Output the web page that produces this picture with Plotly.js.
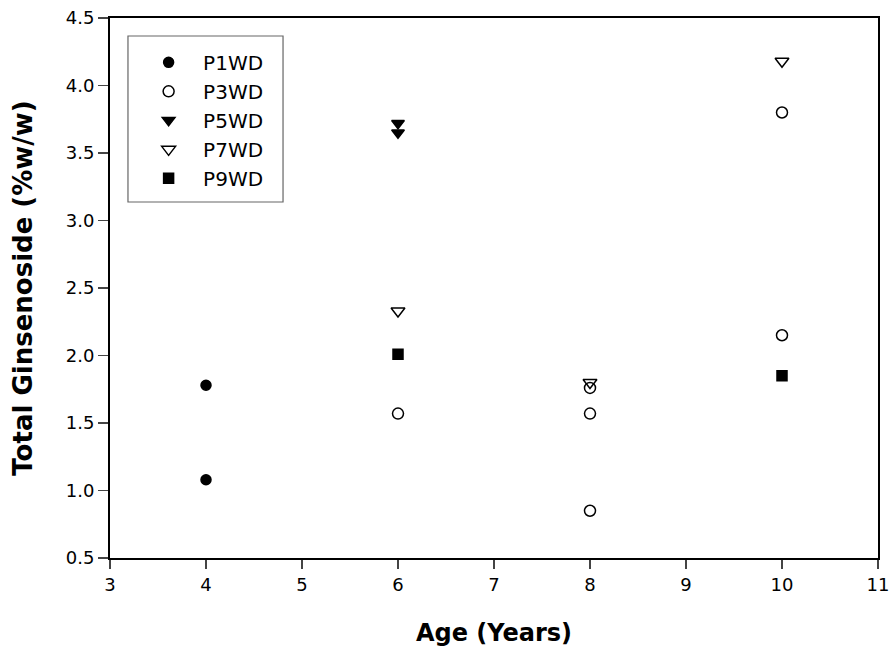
<!DOCTYPE html>
<html><head><meta charset="utf-8">
<script src="https://cdn.plot.ly/plotly-3.0.1.min.js"></script>
<style>body{margin:0;background:#fff}#c{width:892px;height:656px}</style>
</head><body><div id="c"></div>
<script>
const seriesNames = ["P1WD","P3WD","P5WD","P7WD","P9WD"];
const p1x = [4, 4];
const p1y = [1.78, 1.08];
const p3x = [6, 8, 8, 8, 10, 10];
const p3y = [1.57, 1.57, 1.76, 0.85, 3.80, 2.15];
const p5x = [6, 6];
const p5y = [3.72, 3.65];
const p7x = [6, 8, 10];
const p7y = [2.33, 1.80, 4.18];
const p9x = [6, 10];
const p9y = [2.01, 1.85];
const xTicks = [3,4,5,6,7,8,9,10,11];
const yTicks = [0.5,1.0,1.5,2.0,2.5,3.0,3.5,4.0,4.5];
const yTickText = yTicks.map(v => v.toFixed(1));

function tr(name, x, y, symbol, size) {
  return {
    type: 'scatter', mode: 'markers', name: name, x: x, y: y, legendgroup: name,
    marker: {symbol: symbol, size: size, color: '#000', line: {color: '#000', width: 1.5}}
  };
}
const data = [
  tr(seriesNames[0], p1x, p1y, 'circle', 10),
  tr(seriesNames[1], p3x, p3y, 'circle-open', 11),
  tr(seriesNames[2], p5x, p5y, 'triangle-down', 11),
  tr(seriesNames[3], p7x, p7y, 'triangle-down-open', 12),
  tr(seriesNames[4], p9x, p9y, 'square', 10)
];
const tf = 'DejaVu Sans, Arial, sans-serif';
const layout = {
  width: 892, height: 656,
  margin: {l: 110, r: 14, t: 18, b: 98},
  paper_bgcolor: '#fff', plot_bgcolor: '#fff',
  font: {family: tf, size: 18, color: '#000'},
  showlegend: true,
  legend: {x: 0.0314, y: 0.954, xanchor: 'left', yanchor: 'top',
           borderwidth: 0, bgcolor: 'rgba(0,0,0,0)', tracegroupgap: 0,
           font: {family: tf, size: 20, color: '#000'}, itemwidth: 59},
  shapes: [{type: 'rect', xref: 'paper', yref: 'paper', x0: 0.0234, x1: 0.2253, y0: 0.6593, y1: 0.9667,
            line: {color: '#666', width: 1.2}, fillcolor: 'rgba(0,0,0,0)', layer: 'below'}],
  xaxis: {range: [3, 11], tickvals: xTicks, ticks: 'outside', ticklen: 9, tickwidth: 1.5,
          showline: true, linewidth: 2, linecolor: '#000', mirror: true, showgrid: false, zeroline: false,
          tickfont: {family: tf, size: 18, color: '#000'},
          title: {text: '<b>Age (Years)</b>', font: {family: tf, size: 24, color: '#000'}, standoff: 31}},
  yaxis: {range: [0.5, 4.5], tickvals: yTicks, ticktext: yTickText, ticks: 'outside', ticklen: 10, tickwidth: 1.5,
          showline: true, linewidth: 2, linecolor: '#000', mirror: true, showgrid: false, zeroline: false,
          tickfont: {family: tf, size: 18, color: '#000'},
          title: {text: '<b>Total Ginsenoside (%w/w)</b>', font: {family: tf, size: 26, color: '#000'}, standoff: 26}}
};
Plotly.newPlot('c', data, layout, {displayModeBar: false, staticPlot: true});
</script></body></html>
